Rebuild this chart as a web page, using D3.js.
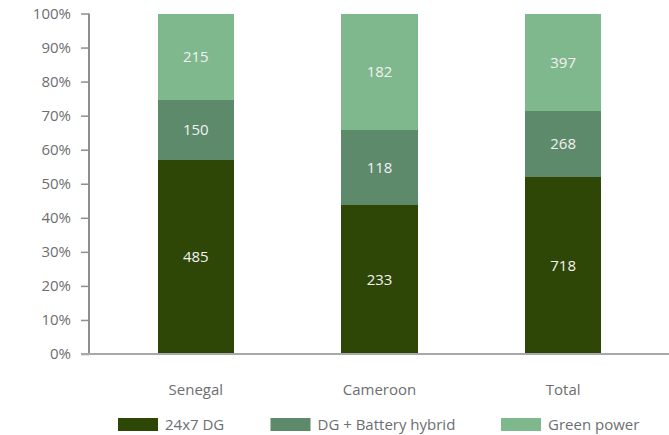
<!DOCTYPE html>
<html>
<head>
<meta charset="utf-8">
<script src="https://cdn.jsdelivr.net/npm/d3@7"></script>
<style>
  html, body { margin: 0; padding: 0; background: #fff; }
  svg { display: block; }
  text { font-family: "Open Sans", "Noto Sans", sans-serif; }
</style>
</head>
<body>
<svg id="chart" width="669" height="435"></svg>
<script>
// Sites and configuration counts
const categories = ["Senegal", "Cameroon", "Total"];
const seriesNames = ["24x7 DG", "DG + Battery hybrid", "Green power"];
const dg24x7 = [485, 233, 718];
const dgBattery = [150, 118, 268];
const greenPower = [215, 182, 397];
const tickLabels = ["0%", "10%", "20%", "30%", "40%", "50%", "60%", "70%", "80%", "90%", "100%"];

const colors = ["#2e4707", "#5d8a6b", "#7fb88c"];
const textGray = "#6d6e71";

const svg = d3.select("#chart");
const W = 669, H = 435;
const plotTop = 13.5, plotBottom = 354;
const axisX = 89;

const rows = categories.map((c, i) => ({
  cat: c, "24x7 DG": dg24x7[i], "DG + Battery hybrid": dgBattery[i], "Green power": greenPower[i]
}));

// 100% stacked shares
const stacked = d3.stack().keys(seriesNames).offset(d3.stackOffsetExpand)(rows);

const x = d3.scaleBand().domain(categories).range([104, 655]).paddingInner(0.586).paddingOuter(0.293);
const y = d3.scaleLinear().domain([0, 1]).range([plotBottom, plotTop]);

// Bars
const layer = svg.append("g").attr("shape-rendering", "crispEdges")
  .selectAll("g").data(stacked).join("g")
  .attr("fill", (d, i) => colors[i]);
layer.selectAll("rect").data(d => d).join("rect")
  .attr("x", d => x(d.data.cat))
  .attr("width", x.bandwidth())
  .attr("y", d => y(d[1]))
  .attr("height", d => y(d[0]) - y(d[1]));

// Value labels
svg.append("g").selectAll("g").data(stacked).join("g")
  .selectAll("text").data(d => d.map(s => ({ s, key: d.key }))).join("text")
  .attr("x", d => x(d.s.data.cat) + x.bandwidth() / 2)
  .attr("y", d => (y(d.s[0]) + y(d.s[1])) / 2)
  .attr("dy", "0.35em")
  .attr("text-anchor", "middle")
  .attr("fill", "#f2f2f2")
  .attr("font-size", 15)
  .text(d => d.s.data[d.key]);

// Y axis
const yAxis = d3.axisLeft(y)
  .tickValues(d3.range(0, 1.0001, 0.1))
  .tickFormat((d, i) => tickLabels[i])
  .tickSize(8).tickPadding(10);
const ya = svg.append("g").attr("transform", `translate(${axisX},0)`).call(yAxis);
ya.select(".domain").attr("stroke", "#8e8f91").attr("stroke-width", 2).attr("d", `M0,${plotTop}V${plotBottom}`);
ya.selectAll(".tick line").attr("stroke", "#8e8f91").attr("stroke-width", 1.5);
ya.selectAll(".tick text").attr("fill", textGray).attr("font-size", 15).attr("font-family", "'Open Sans', sans-serif");

// X baseline
svg.append("line").attr("x1", 81).attr("x2", W).attr("y1", plotBottom).attr("y2", plotBottom)
  .attr("stroke", "#a7a8aa").attr("stroke-width", 2);

// Category labels
svg.append("g").selectAll("text").data(categories).join("text")
  .attr("x", d => x(d) + x.bandwidth() / 2)
  .attr("y", 390)
  .attr("dy", "0.35em")
  .attr("text-anchor", "middle")
  .attr("fill", textGray)
  .attr("font-size", 15)
  .text(d => d);

// Legend
const legendX = [118, 270.5, 501];
const lg = svg.append("g").selectAll("g").data(seriesNames).join("g")
  .attr("transform", (d, i) => `translate(${legendX[i]},418)`);
lg.append("rect").attr("width", 40).attr("height", 13).attr("fill", (d, i) => colors[i]);
lg.append("text").attr("x", 47).attr("y", 6.5).attr("dy", "0.35em")
  .attr("fill", textGray).attr("font-size", 15).text(d => d);
</script>
</body>
</html>
